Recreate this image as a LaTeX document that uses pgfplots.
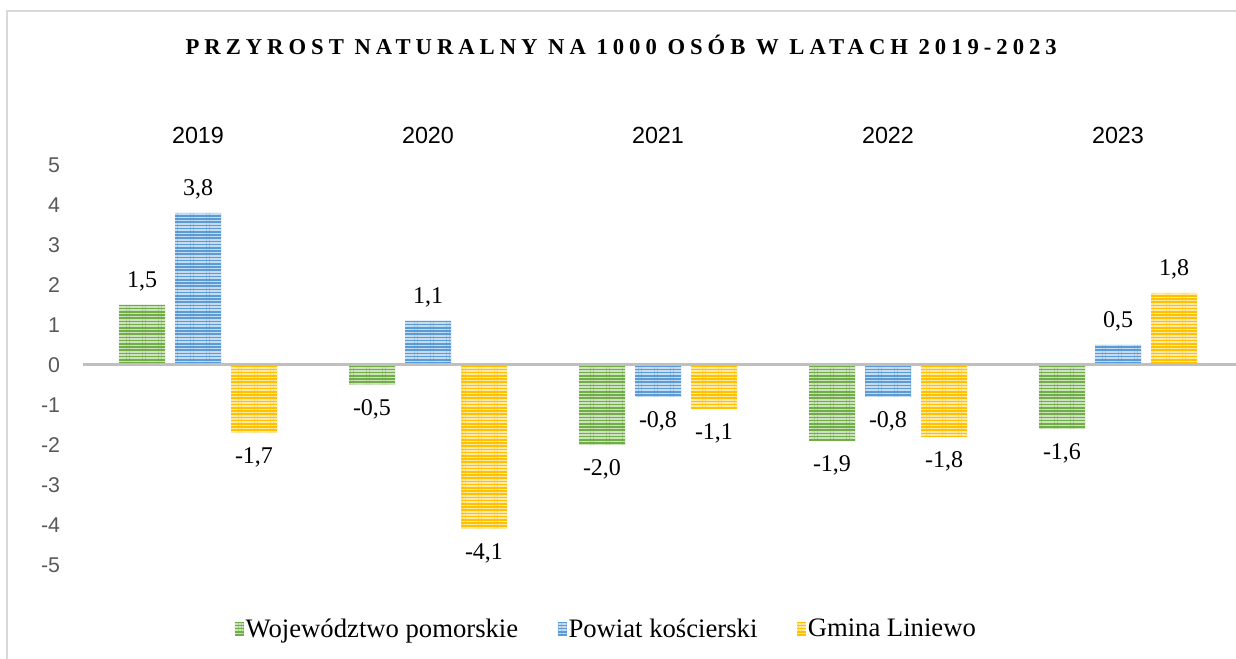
\documentclass[border=0pt]{standalone}
\usepackage{pgfplots}
\pgfplotsset{compat=1.18}
\usetikzlibrary{patterns.meta}
\usepackage{fontspec}
\setmainfont{Liberation Serif}
\newfontfamily\arialf{Liberation Sans}
\newfontfamily\titlef[LetterSpace=22]{Liberation Serif}
\definecolor{cG}{HTML}{70AD47}
\definecolor{cB}{HTML}{5B9BD5}
\definecolor{cY}{HTML}{FFC000}
\definecolor{tickgray}{HTML}{595959}
\definecolor{zerogray}{HTML}{BFBFBF}
\definecolor{framegray}{HTML}{D9D9D9}
\pgfplotsset{
  barG/.style={fill=cG, draw=none, postaction={pattern={Lines[angle=0,distance=2.4pt,line width=1.1pt]}, pattern color=cG!35!white}},
  barB/.style={fill=cB, draw=none, postaction={pattern={Lines[angle=0,distance=2.4pt,line width=1.1pt]}, pattern color=cB!35!white}},
  barY/.style={fill=cY, draw=none, postaction={pattern={Lines[angle=0,distance=2.4pt,line width=1.1pt]}, pattern color=cY!35!white}},
}
\begin{document}
\begin{tikzpicture}
\useasboundingbox (0,0) rectangle (927pt,494.25pt);
\draw[framegray, line width=1.5pt] (5.25pt,-2pt) -- (5.25pt,486pt) -- (930pt,486pt);
\begin{axis}[
  at={(62.25pt,70.5pt)}, anchor=south west,
  scale only axis, width=862.5pt, height=300pt,
  xmin=-0.5, xmax=4.5, ymin=-5, ymax=5,
  clip=false,
  ybar=7.5pt, bar width=34.5pt,
  xtick={0,1,2,3,4}, xticklabels={2019,2020,2021,2022,2023},
  xticklabel pos=upper,
  xticklabel style={anchor=center, yshift=22.5pt, font=\arialf\fontsize{17.5}{20}\selectfont, text=black},
  ytick={-5,-4,...,5},
  yticklabel style={anchor=east, inner sep=0pt, xshift=-17pt, font=\arialf\fontsize{16}{19}\selectfont, text=tickgray, /pgf/number format/assume math mode=true},
  axis line style={draw=none}, major tick length=0pt,
  nodes near coords,
  nodes near coords align={vertical},
  every node near coord/.append style={font=\fontsize{18}{21}\selectfont, text=black, inner ysep=10.5pt, /pgf/number format/.cd, fixed, fixed zerofill, precision=1, use comma, assume math mode=true},
  title={PRZYROST NATURALNY NA 1000 OSÓB W LATACH 2019-2023},
  title style={at={(axis description cs:0.468,1.28)}, anchor=center, font=\titlef\bfseries\fontsize{17}{20}\selectfont},
  legend style={draw=none, fill=none, at={(axis description cs:0.455,-0.16)}, anchor=center, legend columns=3, font=\fontsize{20}{23}\selectfont, nodes={inner xsep=1.5pt}, /tikz/every even column/.append style={column sep=28pt}},
  legend image code/.code={\path[#1] (0pt,-4.9pt) rectangle (6.75pt,4.9pt);},
]
\addplot[barG] coordinates {(0,1.5) (1,-0.5) (2,-2.0) (3,-1.9) (4,-1.6)};
\addlegendentry{Województwo pomorskie}
\addplot[barB] coordinates {(0,3.8) (1,1.1) (2,-0.8) (3,-0.8) (4,0.5)};
\addlegendentry{Powiat kościerski}
\addplot[barY] coordinates {(0,-1.7) (1,-4.1) (2,-1.1) (3,-1.8) (4,1.8)};
\addlegendentry{Gmina Liniewo}
\draw[zerogray, line width=2.25pt] (axis cs:-0.5,0) -- (axis cs:4.55,0);
\end{axis}
\end{tikzpicture}
\end{document}
